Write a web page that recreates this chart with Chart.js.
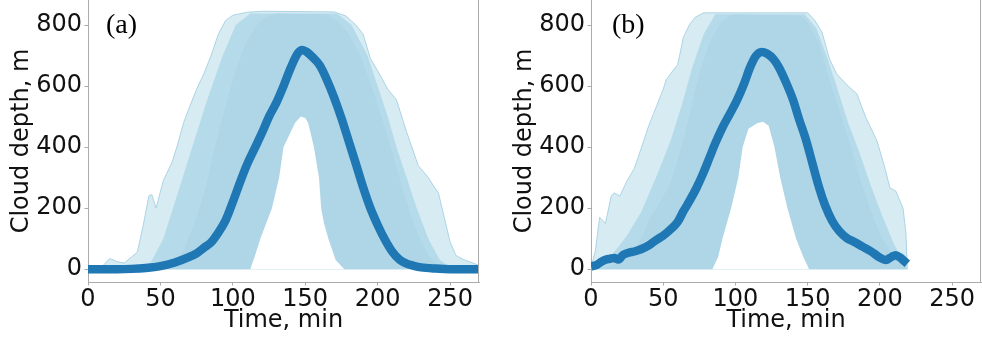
<!DOCTYPE html>
<html><head><meta charset="utf-8">
<script src="https://cdn.jsdelivr.net/npm/chart.js@4"></script>
<style>
html,body{margin:0;padding:0;background:#fff;width:982px;height:341px;overflow:hidden}
canvas{position:absolute;top:0}
#ca{left:0}
#cb{left:490px}
</style></head><body>
<canvas id="ca" width="490" height="341"></canvas>
<canvas id="cb" width="492" height="341"></canvas>
<script>
// ---- tick labels ----
const xTicks = [0, 50, 100, 150, 200, 250];
const yTicks = [0, 200, 400, 600, 800];

// ---- panel (a) ----
const meanA_t = [0,20,30,40,50,60,70,75,80,85,90,95,100,105,110,115,120,125,130,135,140,145,148,151,155,160,165,170,175,180,185,190,195,200,205,210,215,220,225,230,240,250,270];
const meanA   = [0,0,1,4,10,22,40,52,70,88,120,160,220,285,345,395,445,500,545,600,660,708,718,712,695,668,620,562,495,420,345,268,200,145,97,58,32,18,11,6,2,0,0];
const outerA_t = [0,10,15,20,25,30,34,38,42,44,47,52,58,62,66,70,75,80,85,90,95,100,110,120,170,178,185,190,195,200,207,213,220,228,235,239,242,246,250,254,260,266,270];
const outerA   = [3,10,35,25,20,40,55,140,240,245,200,290,350,410,480,530,590,640,700,770,815,832,842,845,843,830,800,770,690,650,590,555,450,340,300,270,250,170,90,45,30,20,12];
const midA_t = [0,35,42,52,62,72,82,93,102,112,172,182,193,200,207,213,220,227,235,243,252,270];
const midA   = [0,0,10,100,250,400,550,700,800,838,838,800,700,600,500,400,300,200,100,30,0,0];
const coreA_t = [0,50,55,60,66,75,82,87,92,97,102,108,115,122,130,165,172,180,188,195,200,206,212,218,224,230,236,242,248,270];
const coreA   = [0,0,10,30,60,170,280,390,480,570,650,730,790,825,838,835,815,770,700,610,540,450,350,250,160,90,40,12,0,0];
const holeA_t = [112,115,119,123,127,132,135,139,143,147,150,152,156,159.5,161,163,166,171,177];
const holeA   = [0,40,100,150,200,300,400,440,480,500,495,480,400,300,200,150,100,30,0];

// ---- panel (b) ----
const meanB_t = [0,4,7,10,13,16,19,22,26,30,35,40,45,50,55,60,64,68,73,78,82,86,91,96,101,106,110,114,118,122,126,130,135,140,144,149,153,158,162,167,172,177,182,188,194,200,204,208,211,214,217,219];
const meanB   = [9,14,24,31,34,37,32,46,54,58,66,78,95,110,130,155,190,222,266,318,365,412,464,508,553,608,660,698,712,706,690,662,612,553,492,421,352,266,210,158,124,102,90,74,58,38,30,40,46,38,26,18];
const outerB_t = [0,3,6,10,14,16,20,25,30,35,40,45,50,52,55,60,64,68,72,78,150,155,160,165,170,178,184,190,198,203,207,211,216,218,219];
const outerB   = [5,60,170,150,240,250,240,290,330,400,470,530,590,620,640,670,760,800,825,840,840,815,775,690,640,600,575,500,420,340,266,256,200,120,0];
const midB_t = [0,5,15,25,35,45,55,63,70,78,86,148,156,163,170,178,186,194,202,210,217,219];
const midB   = [0,10,50,110,190,300,420,540,660,770,835,835,790,700,600,480,380,270,170,80,20,0];
const coreB_t = [0,10,20,30,36,41,48,55,62,68,75,82,90,98,145,150,158,165,172,180,186,193,200,207,214,219];
const coreB   = [0,5,25,60,110,170,220,280,390,500,640,740,810,835,830,810,740,620,520,400,300,200,115,60,25,0];
const holeB_t = [84,88,91,97,102,105,109,115,119,123,127,131,136,142,147,151];
const holeB   = [0,40,100,200,300,400,460,478,483,470,400,300,200,100,40,0];

const SPINE = '#ababab';
const TXT = '#111111';
const FONT = 'DejaVu Sans';
const FSIZE = 24;

function pts(ts, vs) { return ts.map((t, i) => ({x: t, y: vs[i]})); }

const deco = {
  id: 'deco',
  afterDraw(chart, args, opts) {
    const {ctx, chartArea: a} = chart;
    ctx.save();
    ctx.strokeStyle = SPINE; ctx.lineWidth = 1;
    const rx = Math.round(a.right) - 0.5;
    ctx.beginPath(); ctx.moveTo(rx, 0); ctx.lineTo(rx, a.bottom); ctx.stroke();
    ctx.fillStyle = '#000';
    ctx.font = '28px "Liberation Serif"';
    ctx.textBaseline = 'alphabetic';
    ctx.fillText(opts.label, opts.lx, opts.ly);
    ctx.restore();
  }
};

function band(ts, vs, bg, border, order) {
  return {data: pts(ts, vs), borderColor: border, borderWidth: 1, pointRadius: 0,
          backgroundColor: bg, fill: 'origin', order, clip: 0};
}

function makeChart(id, p) {
  const datasets = [
    {data: pts(p.meanT, p.mean), borderColor: '#1f77b4', borderWidth: 8.5, pointRadius: 0,
     fill: false, cubicInterpolationMode: 'monotone', order: 0, clip: 0, borderCapStyle: 'butt'},
    band(p.holeT, p.hole, '#ffffff', 'transparent', 1),
    band(p.coreT, p.core, 'rgb(174,214,231)', 'transparent', 2),
    band(p.midT, p.mid, 'rgba(174,215,231,0.8)', 'transparent', 3),
    band(p.outerT, p.outer, 'rgba(173,216,230,0.5)', 'rgba(165,208,226,0.9)', 4)
  ];
  return new Chart(document.getElementById(id), {
    type: 'line',
    data: {datasets},
    plugins: [deco],
    options: {
      responsive: false, animation: false, devicePixelRatio: 1,
      layout: {padding: {left: 0, top: 0, right: p.padRight, bottom: 0}},
      plugins: {legend: {display: false}, tooltip: {enabled: false},
                deco: {label: p.label, lx: p.lx, ly: 33}},
      scales: {
        x: {
          type: 'linear', min: 0, max: 270,
          afterBuildTicks: s => { s.ticks = xTicks.map(v => ({value: v})); },
          afterFit: s => { s.height = 59; s.paddingLeft = 0; s.paddingRight = 0; },
          ticks: {font: {family: FONT, size: FSIZE}, color: TXT, padding: 0, maxRotation: 0, autoSkip: false},
          grid: {drawOnChartArea: false, tickLength: 3.5, color: SPINE, tickColor: SPINE},
          border: {color: SPINE, width: 1},
          title: {display: true, text: 'Time, min', color: TXT, font: {family: FONT, size: FSIZE},
                  padding: {top: 0, bottom: 6}}
        },
        y: {
          type: 'linear', min: -42, max: 882,
          afterBuildTicks: s => { s.ticks = yTicks.map(v => ({value: v})); },
          afterFit: s => { s.width = p.yWidth; s.paddingTop = 0; s.paddingBottom = 0; },
          ticks: {font: {family: FONT, size: FSIZE}, color: TXT, padding: 2.5},
          grid: {drawOnChartArea: false, tickLength: 3.5, color: SPINE, tickColor: SPINE},
          border: {color: SPINE, width: 1},
          title: {display: true, text: 'Cloud depth, m', color: TXT, font: {family: FONT, size: FSIZE},
                  padding: {top: p.titlePad, bottom: 0}}
        }
      }
    }
  });
}

makeChart('ca', {meanT: meanA_t, mean: meanA, outerT: outerA_t, outer: outerA,
  midT: midA_t, mid: midA, coreT: coreA_t, core: coreA, holeT: holeA_t, hole: holeA,
  padRight: 11, yWidth: 88, titlePad: 7, label: '(a)', lx: 106});
makeChart('cb', {meanT: meanB_t, mean: meanB, outerT: outerB_t, outer: outerB,
  midT: midB_t, mid: midB, coreT: coreB_t, core: coreB, holeT: holeB_t, hole: holeB,
  padRight: 1, yWidth: 101, titlePad: 20, label: '(b)', lx: 122});
</script>
</body></html>
